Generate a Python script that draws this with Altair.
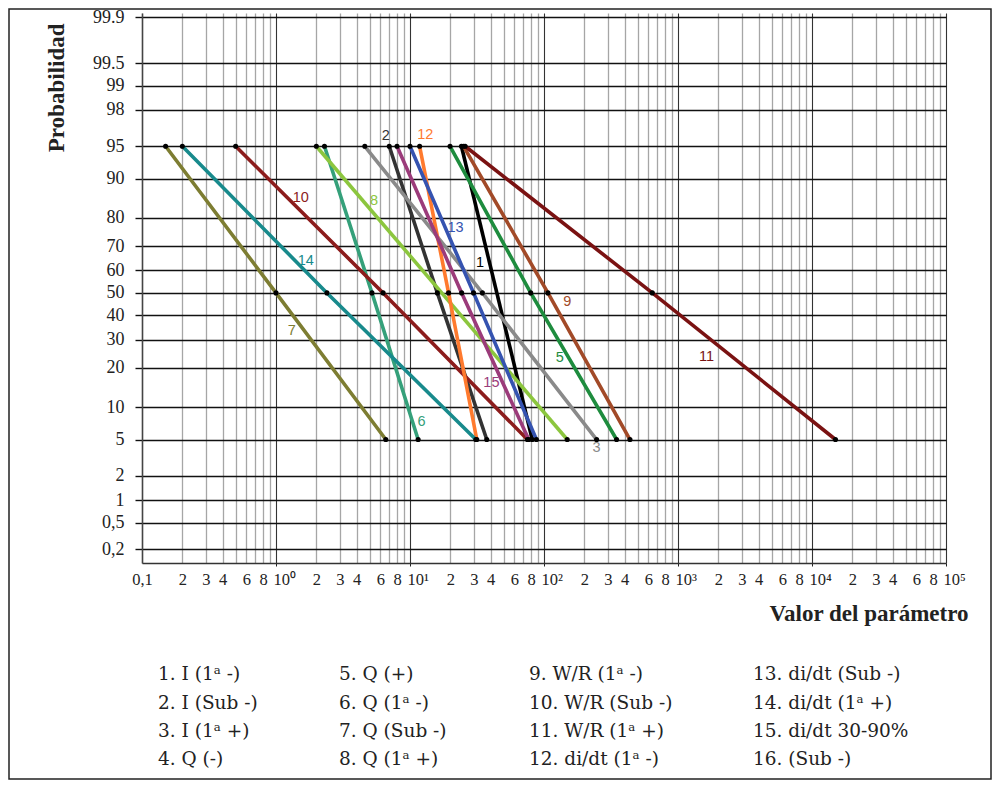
import json
from statistics import NormalDist

import altair as alt
import pandas as pd

# ---------------- data ----------------
series = ["1", "2", "3", "5", "6", "7", "8", "9", "10", "11", "12", "13", "14", "15"]
line_colors = ["#000000", "#333333", "#8a8a8a", "#1e8c3e", "#35a07a", "#7d7d32", "#8cc63e",
               "#a24a28", "#8c1c1c", "#7a1212", "#ff7a2e", "#3553b0", "#188a8c", "#9b3b7a"]
probabilities = [95, 50, 5]
x_at_95 = [24.2, 7.0, 4.6, 19.9, 2.3, 0.15, 2.0, 25.1, 0.5, 25.8, 11.8, 10.0, 0.2, 8.0]
x_at_50 = [None, 16.0, 34.7, 79.6, 5.2, 1.0, None, 107.0, 6.3, 643.0, 19.4, 29.8, 2.4, 24.3]
x_at_5 = [81.7, 37.4, 247.0, 348.0, 11.5, 6.6, 149.0, 438.0, 75.2, 14970.0, 31.5, 87.8, 31.0, 76.9]

label_x = [33.3, 6.6, 247.0, 131.0, 12.2, 1.31, 5.4, 149.0, 1.53, 1633.0, 13.0, 21.9, 1.67, 40.5]
label_p = [63.3, 96.1, 4.1, 23.4, 7.3, 33.5, 84.9, 46.0, 85.7, 23.7, 96.2, 76.8, 64.0, 15.7]

y_tick_probs = [0.2, 0.5, 1, 2, 5, 10, 20, 30, 40, 50, 60, 70, 80, 90, 95, 98, 99, 99.5, 99.9]
y_tick_labels = ["0,2", "0,5", "1", "2", "5", "10", "20", "30", "40", "50", "60", "70",
                 "80", "90", "95", "98", "99", "99.5", "99.9"]

sup = {0: "\u2070", 1: "\u00b9", 2: "\u00b2", 3: "\u00b3", 4: "\u2074", 5: "\u2075"}
x_tick_values = [float(f"{k}e{d}") for d in range(-1, 5) for k in range(1, 10)] + [1e5]
decades = [1.0, 10.0, 100.0, 1000.0, 10000.0, 100000.0]


def x_label(v):
    if v == 0.1:
        return "0,1"
    if v in decades:
        return "10" + sup[decades.index(v)]
    k = round(v / 10 ** (len(str(int(v))) - 1)) if v >= 1 else round(v * 10)
    return str(k) if k in (2, 3, 4, 6, 8) else ""


x_tick_labels = [x_label(v) for v in x_tick_values]

legend_columns = [
    ["1. I (1\u1d43 -)", "2. I (Sub -)", "3. I (1\u1d43 +)", "4. Q (-)"],
    ["5. Q (+)", "6. Q (1\u1d43 -)", "7. Q (Sub -)", "8. Q (1\u1d43 +)"],
    ["9. W/R (1\u1d43 -)", "10. W/R (Sub -)", "11. W/R (1\u1d43 +)", "12. di/dt (1\u1d43 -)"],
    ["13. di/dt (Sub -)", "14. di/dt (1\u1d43 +)", "15. di/dt 30-90%", "16. (Sub -)"],
]

# ---------------- layout / style ----------------
W, H = 804, 550
Z_DOMAIN = [-3.03, 3.14]
legend_offsets = [16, 197, 387, 611]
SERIF = "Liberation Serif"

nd = NormalDist()


def probit(p):
    return nd.inv_cdf(p / 100.0)


rows = []
for i, s in enumerate(series):
    for p, xv in zip(probabilities, [x_at_95[i], x_at_50[i], x_at_5[i]]):
        if xv is None:
            continue
        rows.append({"serie": s, "x": xv, "p": p, "z": probit(p)})
df = pd.DataFrame(rows)

labels_df = pd.DataFrame({
    "serie": series,
    "x": label_x,
    "z": [probit(p) for p in label_p],
})

y_tick_z = [probit(p) for p in y_tick_probs]

x_label_expr = (f"{json.dumps(x_tick_labels, ensure_ascii=False)}"
                f"[indexof({json.dumps(x_tick_values)}, datum.value)]")
y_label_expr = (f"{json.dumps(y_tick_labels, ensure_ascii=False)}"
                f"[indexof({json.dumps(y_tick_z)}, datum.value)]")
decade_test = f"indexof({json.dumps(decades)}, datum.value) >= 0"

x_scale = alt.Scale(type="log", domain=[0.1, 1e5], nice=False)
y_scale = alt.Scale(domain=Z_DOMAIN, nice=False, zero=False)
color_scale = alt.Scale(domain=series, range=line_colors)

x_axis = alt.Axis(
    values=x_tick_values,
    tickCount=200,
    labelExpr=x_label_expr,
    labelOverlap=False,
    labelFlush=False,
    labelFont=SERIF,
    labelFontSize=16.5,
    labelColor="#222222",
    labelPadding=5,
    labelAlign={"condition": {"test": decade_test, "value": "left"}, "value": "center"},
    labelOffset={"condition": {"test": decade_test, "value": -3}, "value": 0},
    tickSize=3,
    tickColor={"condition": {"test": decade_test, "value": "#222222"}, "value": "transparent"},
    grid=True,
    gridColor={"condition": {"test": decade_test, "value": "#333333"}, "value": "#a6a6a6"},
    gridWidth={"condition": {"test": decade_test, "value": 1.1}, "value": 1.3},
    domainColor="#333333",
    domainWidth=1.5,
    title="Valor del parámetro",
    titleFont=SERIF,
    titleFontSize=23,
    titleFontWeight="bold",
    titleColor="#222222",
    titleAlign="right",
    titleBaseline="alphabetic",
    titleX=826,
    titleY=57,
)

y_axis = alt.Axis(
    values=y_tick_z,
    tickCount=200,
    labelExpr=y_label_expr,
    labelOverlap=False,
    labelFlush=False,
    labelFont=SERIF,
    labelFontSize=18,
    labelColor="#222222",
    labelPadding=11,
    tickSize=7,
    tickColor="#111111",
    tickWidth=1.4,
    grid=True,
    gridColor="#111111",
    gridWidth=1.4,
    domainColor="#444444",
    domainWidth=1.5,
    title="Probabilidad",
    titleFont=SERIF,
    titleFontSize=23,
    titleFontWeight="bold",
    titleColor="#222222",
    titleAngle=270,
    titleAlign="right",
    titleBaseline="alphabetic",
    titleX=-79,
    titleY=10,
)

base = alt.Chart(df)

lines = base.mark_line(strokeWidth=3.6).encode(
    x=alt.X("x:Q", scale=x_scale, axis=x_axis),
    y=alt.Y("z:Q", scale=y_scale, axis=y_axis),
    color=alt.Color("serie:N", scale=color_scale, legend=None),
    detail="serie:N",
)

points = base.mark_circle(size=26, color="black", opacity=1).encode(
    x=alt.X("x:Q", scale=x_scale),
    y=alt.Y("z:Q", scale=y_scale),
)

texts = alt.Chart(labels_df).mark_text(
    font="Liberation Sans", fontSize=14.5, align="center", baseline="middle"
).encode(
    x=alt.X("x:Q", scale=x_scale),
    y=alt.Y("z:Q", scale=y_scale),
    text="serie:N",
    color=alt.Color("serie:N", scale=color_scale, legend=None),
)

frame = alt.Chart(alt.Data(values=[{"f": 1}])).mark_rect(
    fill="transparent", stroke="#222222", strokeWidth=1.5
).encode(
    x=alt.value(-133), x2=alt.value(849), y=alt.value(-4), y2=alt.value(766)
)

main = alt.layer(frame, lines, points, texts).properties(width=W, height=H)

legend_layers = []
for offset, col in zip(legend_offsets, legend_columns):
    ldf = pd.DataFrame({"row": list(range(len(col))), "text": col})
    legend_layers.append(
        alt.Chart(ldf).mark_text(
            align="left", baseline="middle", font="DejaVu Serif", fontSize=18.5, color="#222222"
        ).encode(
            x=alt.value(offset),
            y=alt.Y("row:O", axis=None, scale=alt.Scale(paddingInner=0, paddingOuter=0)),
            text="text:N",
        )
    )
legend = alt.layer(*legend_layers).properties(width=W, height=113.6)

chart = alt.vconcat(main, legend, spacing=97, bounds="flush").properties(
    padding=0, background="white"
).configure_view(stroke=None)

chart.save("out.html", embed_options={"renderer": "svg", "actions": False})
